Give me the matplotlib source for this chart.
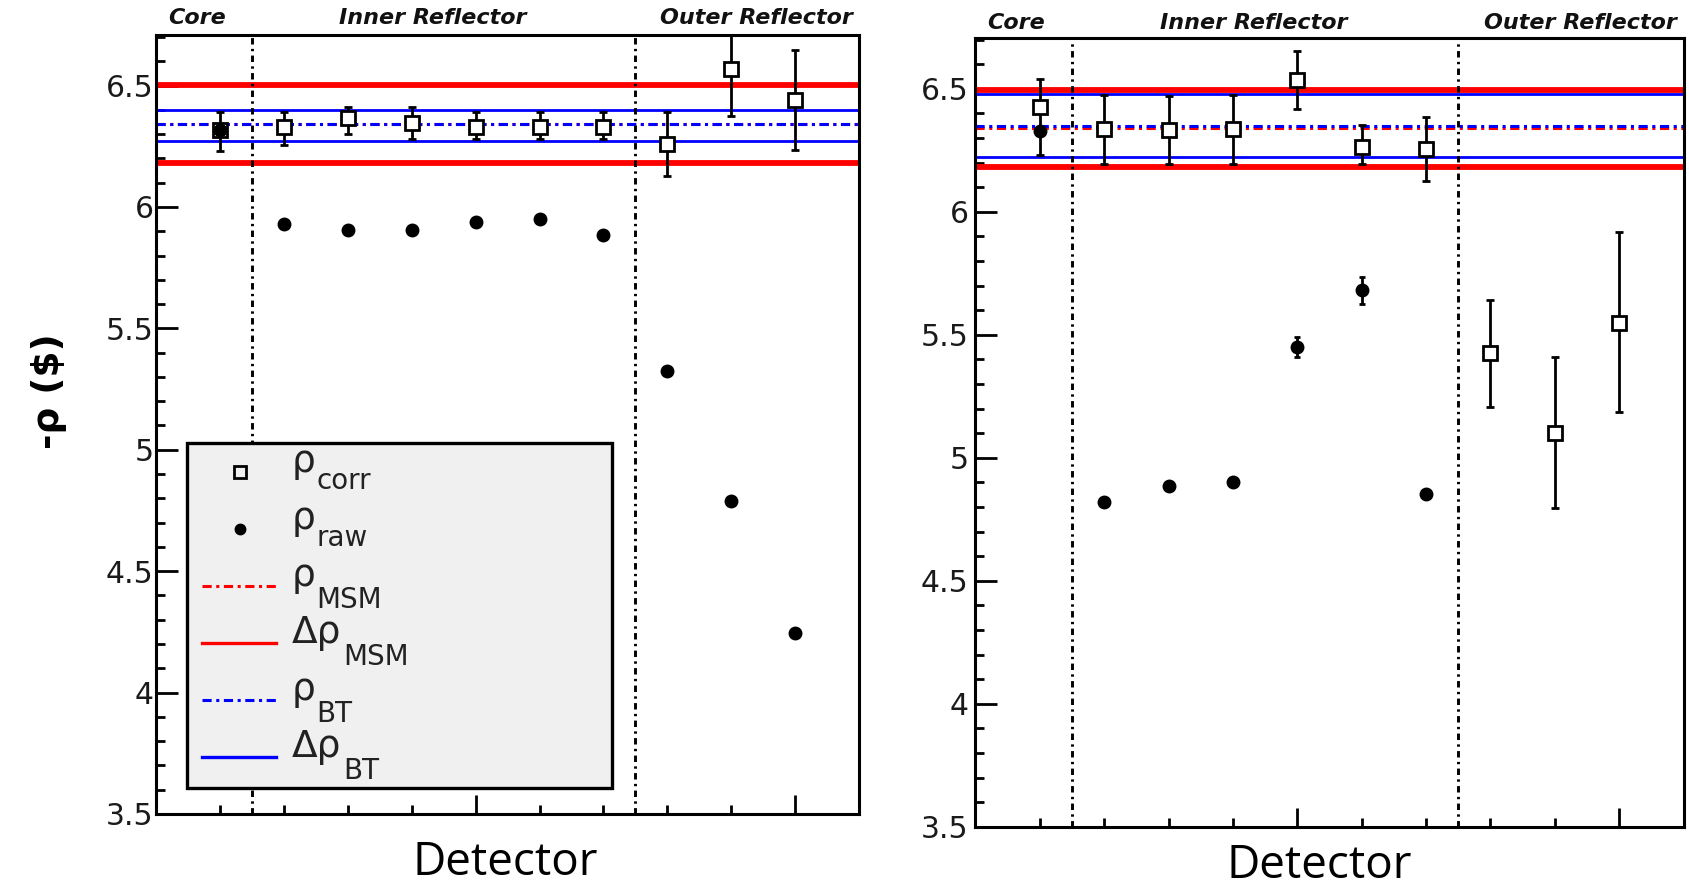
import numpy as np
import matplotlib
matplotlib.use("Agg")
import matplotlib.pyplot as plt
from matplotlib.ticker import MultipleLocator, FixedLocator, FormatStrFormatter
from matplotlib.transforms import blended_transform_factory

plt.rcParams['font.family'] = ['DejaVu Sans']

# Detector index: 1 = core, 2-7 = inner reflector, 8-10 = outer reflector
detectors = np.arange(1, 11)
regions = ["Core", "Inner Reflector", "Outer Reflector"]
region_centers = [0.63, 4.33, 9.4]
region_bounds = [1.5, 7.5]

# ---- left panel ----
left_corr = [6.318, 6.330, 6.366, 6.345, 6.330, 6.330, 6.330, 6.258, 6.566, 6.441]
left_corr_lo = [0.086, 0.075, 0.064, 0.064, 0.049, 0.049, 0.049, 0.130, 0.191, 0.208]
left_corr_hi = [0.071, 0.059, 0.046, 0.067, 0.059, 0.059, 0.059, 0.131, 0.191, 0.207]
left_raw = [6.318, 5.930, 5.906, 5.903, 5.940, 5.952, 5.885, 5.325, 4.790, 4.245]
left_raw_err = [0.0, 0.015, 0.012, 0.012, 0.015, 0.012, 0.012, 0.01, 0.01, 0.01]
left_msm = 6.341
left_msm_band = [6.182, 6.502]
left_bt = 6.341
left_bt_band = [6.272, 6.400]

# ---- right panel ----
right_corr = [6.426, 6.338, 6.334, 6.338, 6.536, 6.263, 6.255, 5.424, 5.100, 5.547]
right_corr_lo = [0.197, 0.145, 0.140, 0.144, 0.118, 0.070, 0.132, 0.216, 0.306, 0.361]
right_corr_hi = [0.112, 0.138, 0.135, 0.135, 0.119, 0.091, 0.130, 0.217, 0.308, 0.370]
right_raw = [6.327, 4.819, 4.886, 4.903, 5.450, 5.680, 4.853, np.nan, np.nan, np.nan]
right_raw_err = [0.0, 0.01, 0.01, 0.01, 0.042, 0.055, 0.01, 0.0, 0.0, 0.0]
right_msm = 6.340
right_msm_band = [6.182, 6.493]
right_bt = 6.350
right_bt_band = [6.222, 6.477]

y_major = [3.5, 4.0, 4.5, 5.0, 5.5, 6.0, 6.5]

# legend entries: main symbol, subscript
legend_main = ["ρ", "ρ", "ρ", "Δρ", "ρ", "Δρ"]
legend_sub = ["corr", "raw", "MSM", "MSM", "BT", "BT"]

dashdot = (0, (3, 1.5, 1, 1.5))
sep_style = (0, (2.2, 1.5, 0.8, 1.5))

fig = plt.figure(figsize=(16.9, 8.9), dpi=100)
axL = fig.add_axes([0.0925, 0.0854, 0.4158, 0.8758])
axR = fig.add_axes([0.5772, 0.0711, 0.4190, 0.8859])


def draw_panel(ax, corr, lo, hi, raw, raw_err, msm, msm_band, bt, bt_band,
               ytop, label_pad, header_y):
    ax.set_xlim(0, 11)
    ax.set_ylim(3.5, ytop)

    for yb in msm_band:
        ax.axhline(yb, color='#ff0000', lw=4.2, zorder=2)
    for yb in bt_band:
        ax.axhline(yb, color='#0000ff', lw=2.0, zorder=2.1)
    ax.axhline(msm, color='#ff0000', lw=2.2, ls=dashdot, zorder=2.2)
    ax.axhline(bt, color='#0000ff', lw=2.2, ls=dashdot, zorder=2.3)

    for xb in region_bounds:
        ax.axvline(xb, color='black', lw=2.1, ls=sep_style, zorder=2.4)

    ax.errorbar(detectors, corr, yerr=[lo, hi], fmt='s', mfc='white',
                mec='black', ms=9.5, mew=2, ecolor='black', elinewidth=2,
                capsize=3, capthick=2, zorder=4)
    ax.errorbar(detectors, raw, yerr=raw_err, fmt='o', color='black',
                ms=9, ecolor='black', elinewidth=2, capsize=2.5,
                capthick=2, zorder=5)

    # region headers above the frame
    trans = blended_transform_factory(ax.transData, ax.transAxes)
    for name, xc in zip(regions, region_centers):
        ax.text(xc, header_y, name, transform=trans, ha='center', va='center',
                fontsize=16, fontweight='bold', fontstyle='italic',
                color='#111111')

    for sp in ax.spines.values():
        sp.set_linewidth(2.2)

    ax.yaxis.set_major_locator(FixedLocator(y_major))
    ax.yaxis.set_minor_locator(MultipleLocator(0.1))
    ax.yaxis.set_major_formatter(FormatStrFormatter('%g'))
    ax.tick_params(axis='y', which='major', direction='in', length=16,
                   width=2, labelsize=21.5, pad=label_pad, right=False,
                   labelcolor='#1a1a1a')
    ax.tick_params(axis='y', which='minor', direction='in', length=6.5,
                   width=2, right=False)

    ax.xaxis.set_major_locator(FixedLocator([5, 10]))
    ax.xaxis.set_minor_locator(FixedLocator(list(detectors)))
    ax.tick_params(axis='x', which='major', direction='in', length=14,
                   width=2, labelbottom=False, top=False)
    ax.tick_params(axis='x', which='minor', direction='in', length=6.5,
                   width=2, top=False)


draw_panel(axL, left_corr, left_corr_lo, left_corr_hi, left_raw, left_raw_err,
           left_msm, left_msm_band, left_bt, left_bt_band, 6.71, 2, 1.021)
draw_panel(axR, right_corr, right_corr_lo, right_corr_hi, right_raw,
           right_raw_err, right_msm, right_msm_band, right_bt, right_bt_band,
           6.705, 5, 1.020)

# legend box in the left panel
box = plt.Rectangle((0.0437, 0.0334), 0.6048, 0.4426, transform=axL.transAxes,
                    facecolor='#f0f0f0', edgecolor='black', lw=2.4, zorder=6)
axL.add_patch(box)

handles = [
    'square', 'dot',
    ('#ff0000', dashdot, 2.2), ('#ff0000', '-', 2.4),
    ('#0000ff', dashdot, 2.2), ('#0000ff', '-', 2.4),
]
row_top = 0.4387
row_step = 0.0731
for i, (main, sub, handle) in enumerate(zip(legend_main, legend_sub, handles)):
    yy = row_top - i * row_step
    if handle == 'square':
        axL.plot([0.1192], [yy], 's', mfc='none', mec='black', ms=8, mew=2,
                 transform=axL.transAxes, zorder=7, clip_on=False)
    elif handle == 'dot':
        axL.plot([0.1192], [yy], 'o', color='black', ms=7.5,
                 transform=axL.transAxes, zorder=7, clip_on=False)
    else:
        col, ls, lw = handle
        axL.plot([0.0651, 0.1704], [yy, yy], color=col, ls=ls, lw=lw,
                 transform=axL.transAxes, zorder=7, clip_on=False)
    axL.text(0.1930, yy, main, transform=axL.transAxes, ha='left',
             va='baseline', fontsize=27, color='#222222', zorder=7)
    sub_x = 0.2273 if len(main) == 1 else 0.2655
    drop = 12 if sub.islower() else 16
    axL.annotate(sub, xy=(sub_x, yy), xycoords='axes fraction',
                 xytext=(0, -drop), textcoords='offset points', ha='left',
                 va='baseline', fontsize=20, color='#222222', zorder=7)

fig.text(0.0287, 0.5607, '-ρ ($)', rotation=90, ha='center', va='center',
         fontsize=27, fontweight='bold')
fig.text(505 / 1690, 1 - 875 / 890, 'Detector', ha='center', va='baseline',
         fontsize=33, family=['Open Sans', 'DejaVu Sans'])
fig.text(1319 / 1690, 0.0015, 'Detector', ha='center', va='bottom',
         fontsize=33, family=['Open Sans', 'DejaVu Sans'])

fig.savefig('out.png', dpi=100, facecolor='white')
